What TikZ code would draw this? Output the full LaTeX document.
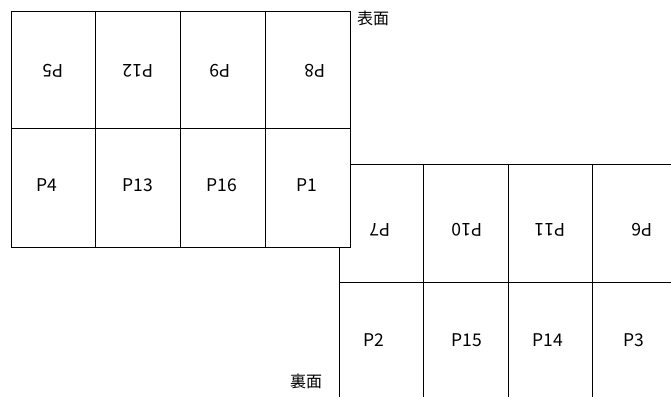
\documentclass[tikz,border=0pt]{standalone}
\usepackage{fontspec}
\setmainfont{Noto Sans CJK JP}
\begin{document}
\begin{tikzpicture}[x=1pt,y=-1pt,
  sheet/.style={draw=black,line width=0.9pt,fill=white},
  grid/.style={draw=black,line width=0.9pt},
  lbl/.style={font=\fontsize{17.5}{20}\selectfont,inner sep=0pt},
  flip/.style={lbl,rotate=180},
  captext/.style={font=\fontsize{16}{18}\selectfont,inner sep=0pt}]
\useasboundingbox[clip] (0,0) rectangle (671,396);
% back sheet (lower right)
\path[sheet] (339,164) rectangle (676,402);
\draw[grid] (423.5,164) -- (423.5,402) (508,164) -- (508,402) (592,164) -- (592,402);
\draw[grid] (339,282) -- (676,282);
\node[flip] (p7)  at (380,230) {P7};
\node[flip] (p10) at (467,230) {P10};
\node[flip] (p11) at (550,230) {P11};
\node[flip] (p6)  at (642,230) {P6};
\node[lbl] (p2)  at (374,340) {P2};
\node[lbl] (p15) at (467,340) {P15};
\node[lbl] (p14) at (548,340) {P14};
\node[lbl] (p3)  at (634,340) {P3};
% front sheet (upper left)
\path[sheet] (11,11) rectangle (350,247);
\draw[grid] (95.7,11) -- (95.7,247) (180.7,11) -- (180.7,247) (265.7,11) -- (265.7,247);
\draw[grid] (11,128.7) -- (350,128.7);
\node[flip] (p5)  at (53,71) {P5};
\node[flip] (p12) at (138,71) {P12};
\node[flip] (p9)  at (220,71) {P9};
\node[flip] (p8)  at (315,71) {P8};
\node[lbl] (p4)  at (47,185) {P4};
\node[lbl] (p13) at (138,185) {P13};
\node[lbl] (p16) at (222,185) {P16};
\node[lbl] (p1)  at (307,185) {P1};
% captions
\node[captext] (front) at (373,18) {表面};
\node[captext] (back)  at (306,381) {裏面};
\end{tikzpicture}
\end{document}
